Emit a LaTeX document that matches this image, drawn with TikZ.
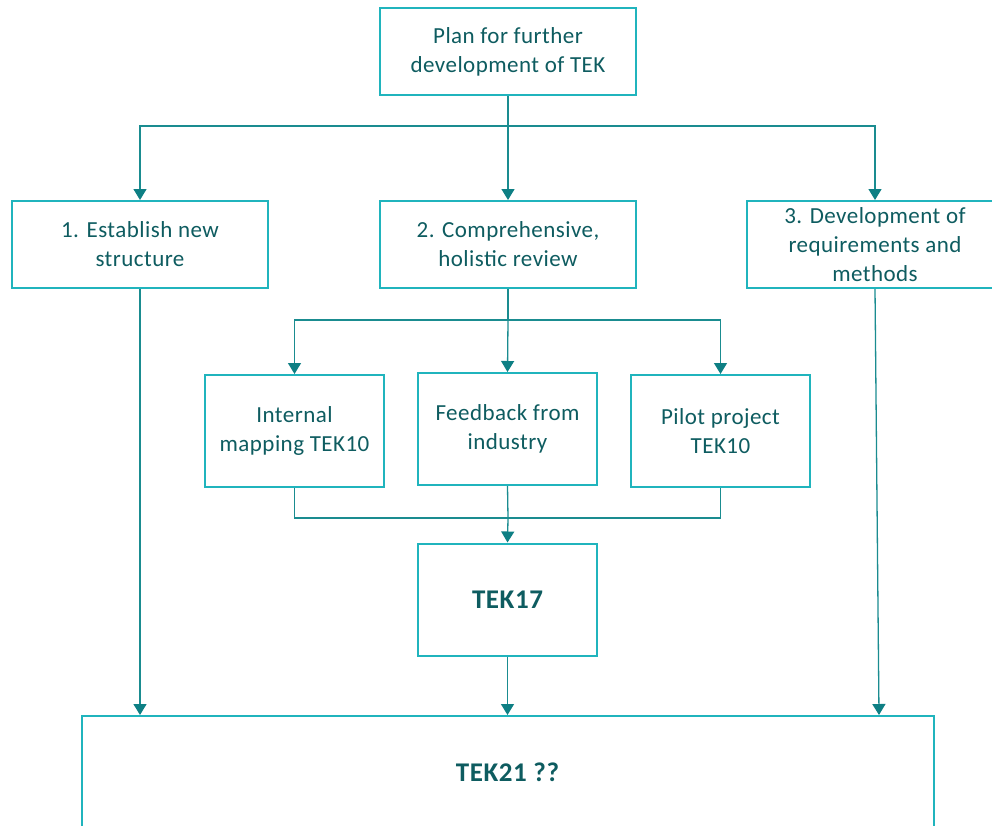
\documentclass[tikz,border=0pt]{standalone}
\usepackage{fontspec}
\setmainfont{Carlito}[LetterSpace=2]
\usetikzlibrary{arrows.meta}
\definecolor{boxline}{HTML}{20B4BD}
\definecolor{connline}{HTML}{1A8C90}
\definecolor{tipfill}{HTML}{0E7F84}
\definecolor{txt}{HTML}{0E5C60}
\tikzset{
  x=1pt, y=-1pt,
  card/.style={draw=boxline, line width=2pt, fill=white, text=txt,
    align=center, inner sep=0pt,
    font=\fontsize{23}{29}\selectfont},
  boldtext/.style={font=\fontsize{27}{29}\selectfont\bfseries},
  link/.style={draw=connline, line width=1.3pt},
  arrowlink/.style={link, -{Triangle[width=13pt,length=11pt,fill=tipfill,color=tipfill]}},
}
\begin{document}
\begin{tikzpicture}
\useasboundingbox (0,0) rectangle (992,825);
\clip (0,0) rectangle (992,825);
% boxes
\node[card, minimum width=256pt, minimum height=87pt] (plan) at (508,51.5) {Plan for further\\development of TEK};
\node[card, minimum width=256pt, minimum height=87pt] (est) at (140,244.5) {1. Establish new\\structure};
\node[card, minimum width=256pt, minimum height=87pt] (rev) at (508,244.5) {2. Comprehensive,\\holistic review};
\node[card, minimum width=256pt, minimum height=87pt] (req) at (875,244.5) {3. Development of\\requirements and\\methods};
\node[card, minimum width=179pt, minimum height=112pt] (imap) at (294.5,431) {Internal\\mapping TEK10};
\node[card, minimum width=179pt, minimum height=112pt] (feed) at (507.5,429) {Feedback from\\industry};
\node[card, minimum width=179pt, minimum height=112pt] (pilot) at (720.5,431) {Pilot project\\TEK10};
\node[card, boldtext, minimum width=179pt, minimum height=112pt] (t17) at (507.5,599.5) {TEK17};
\node[card, minimum width=852pt, minimum height=150pt, anchor=north] (t21) at (507.5,715) {};
\node[text=txt, boldtext] (t21label) at (507.5,772) {TEK21 ??};
% junction points
\coordinate (j1) at (508,126);
\coordinate (j2) at (508,320);
\coordinate (j3) at (508,518);
\coordinate (endR) at (879,715);
% top level split
\draw[link] (plan.south) -- (j1);
\draw[arrowlink] (j1) -| (est.north);
\draw[arrowlink] (j1) -- (rev.north);
\draw[arrowlink] (j1) -| (req.north);
% review split
\draw[link] (rev.south) -- (j2);
\draw[arrowlink] (j2) -| (imap.north);
\draw[arrowlink] (j2) -- (feed.north);
\draw[arrowlink] (j2) -| (pilot.north);
% merge into TEK17
\draw[link] (imap.south) |- (j3);
\draw[link] (pilot.south) |- (j3);
\draw[link] (feed.south) -- (j3);
\draw[arrowlink] (j3) -- (t17.north);
% into TEK21
\draw[arrowlink] (est.south) -- (est.south |- t21.north);
\draw[arrowlink] (t17.south) -- (t21.north);
\draw[arrowlink] (req.south) -- (endR);
\end{tikzpicture}
\end{document}
